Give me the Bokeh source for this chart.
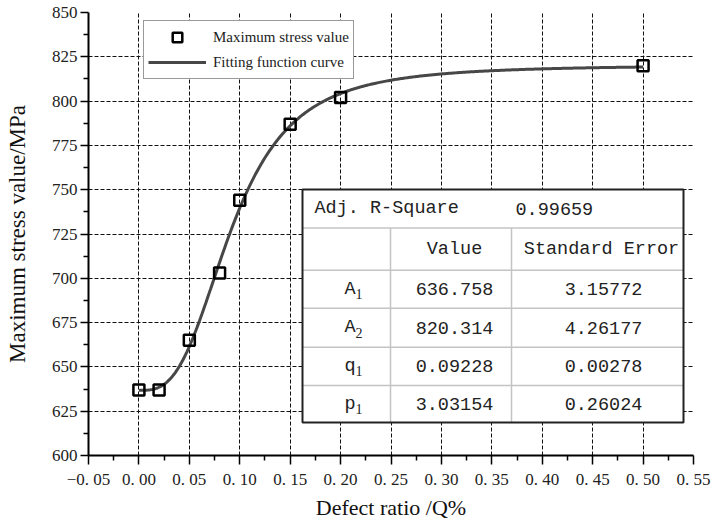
import numpy as np
from bokeh.plotting import figure
from bokeh.models import (Range1d, FixedTicker, Legend, LegendItem,
                          CustomJSTickFormatter)
from bokeh.core.properties import value
from bokeh.embed import file_html
from bokeh.resources import INLINE

# ---------------- data ----------------
defect_ratio = [0.00, 0.02, 0.05, 0.08, 0.10, 0.15, 0.20, 0.50]
max_stress = [637, 637, 665, 703, 744, 787, 802, 820]

x_ticks = [-0.05, 0.00, 0.05, 0.10, 0.15, 0.20, 0.25, 0.30, 0.35, 0.40, 0.45, 0.50, 0.55]
x_tick_labels = ["\u22120. 05", "0. 00", "0. 05", "0. 10", "0. 15", "0. 20", "0. 25",
                 "0. 30", "0. 35", "0. 40", "0. 45", "0. 50", "0. 55"]
y_ticks = [600, 625, 650, 675, 700, 725, 750, 775, 800, 825, 850]
y_tick_labels = ["600", "625", "650", "675", "700", "725", "750", "775", "800", "825", "850"]

# fit table (Logistic: y = A2 + (A1-A2)/(1+(x/q1)^p1))
fit_names = ["A", "A", "q", "p"]
fit_subs = ["1", "2", "1", "1"]
fit_values = [636.758, 820.314, 0.09228, 3.03154]
fit_value_labels = ["636.758", "820.314", "0.09228", "3.03154"]
fit_error_labels = ["3.15772", "4.26177", "0.00278", "0.26024"]
adj_r_square = "0.99659"
fit_x_start, fit_x_end = 0.0, 0.5

# fitted curve from the table's parameters
A1, A2, q1, p1 = fit_values
curve_x = np.linspace(fit_x_start, fit_x_end, 401)
curve_y = A2 + (A1 - A2) / (1.0 + (curve_x / q1) ** p1)

# ---------------- figure ----------------
X0, X1, Y0, Y1 = -0.05, 0.55, 600, 850
p = figure(width=717, height=526, x_range=Range1d(X0, X1), y_range=Range1d(Y0, Y1),
           output_backend="svg", toolbar_location=None,
           min_border_left=88, min_border_right=24, min_border_top=12, min_border_bottom=71)
p.outline_line_color = None
p.background_fill_color = "white"
p.border_fill_color = "white"

# helpers: reference-image pixel -> data coords (for annotation placement only)
def rx(px):
    return X0 + (px - 88) * (X1 - X0) / 605.0

def ry(py):
    return Y1 - (py - 12) * (Y1 - Y0) / 443.0

def mid(a):
    return [(a[i] + a[i + 1]) / 2 for i in range(len(a) - 1)]

def fmt(tvals, tlabels):
    return CustomJSTickFormatter(args=dict(tv=tvals, tl=tlabels), code="""
        for (let i = 0; i < tv.length; i++) {
            if (Math.abs(tv[i] - tick) < 1e-9) { return tl[i]; }
        }
        return "";
    """)

xt = FixedTicker(ticks=x_ticks, minor_ticks=mid(x_ticks))
yt = FixedTicker(ticks=y_ticks, minor_ticks=mid(y_ticks))
p.xaxis.ticker = xt
p.yaxis.ticker = yt
p.xaxis.formatter = fmt(x_ticks, x_tick_labels)
p.yaxis.formatter = fmt(y_ticks, y_tick_labels)

p.xgrid.ticker = FixedTicker(ticks=x_ticks[:-1])
p.ygrid.ticker = FixedTicker(ticks=y_ticks[:-1])
for g in (p.xgrid, p.ygrid):
    g.grid_line_color = "#111111"
    g.grid_line_dash = "4 2"
    g.grid_line_width = 1

for ax in (p.xaxis, p.yaxis):
    ax.axis_line_color = "black"
    ax.axis_line_width = 2
    ax.major_tick_line_color = "black"
    ax.major_tick_line_width = 1.5
    ax.minor_tick_line_color = "black"
    ax.minor_tick_line_width = 1.5
    ax.major_tick_in = 0
    ax.minor_tick_in = 0
    ax.major_label_text_font = "Liberation Serif"
    ax.major_label_text_font_size = "17px"
    ax.major_label_text_color = "#222222"
    ax.axis_label_text_font = "Liberation Serif"
    ax.axis_label_text_font_style = "normal"
    ax.axis_label_text_color = "#111111"

p.xaxis.major_tick_out = 9
p.xaxis.minor_tick_out = 5
p.xaxis.major_label_standoff = 5
p.xaxis.axis_label = "Defect ratio /Q%"
p.xaxis.axis_label_text_font_size = "22px"
p.xaxis.axis_label_standoff = 3

p.yaxis.major_tick_out = 8
p.yaxis.minor_tick_out = 5
p.yaxis.major_label_standoff = 3
p.yaxis.axis_label = "Maximum stress value/MPa"
p.yaxis.axis_label_text_font_size = "23px"
p.yaxis.axis_label_standoff = 19

# ---------------- data marks ----------------
curve = p.line(curve_x, curve_y, line_color="#474747", line_width=3)
pts = p.scatter(defect_ratio, max_stress, marker="square", size=11,
                fill_color=None, line_color="black", line_width=2.5)

# ---------------- legend ----------------
legend = Legend(items=[LegendItem(label="Maximum stress value", renderers=[pts]),
                       LegendItem(label="Fitting function curve", renderers=[curve])],
                location=(55, 376), orientation="vertical",
                glyph_width=58, glyph_height=24, label_height=24, label_width=20,
                spacing=1, padding=4, margin=0, label_standoff=7,
                label_text_font="Liberation Serif", label_text_font_size="15px",
                label_text_color="#222222",
                border_line_color="#333333", border_line_width=1.5,
                background_fill_color="white", background_fill_alpha=1.0)
p.add_layout(legend)

# ---------------- fit table ----------------
TL, TR, TT, TB = rx(302), rx(683), ry(189), ry(422)
row_lines = [227.4, 269.7, 307.7, 346.7, 385.0]
col_lines = [390.0, 511.0]
p.quad(left=[TL], right=[TR], top=[TT], bottom=[TB], fill_color="white", line_color=None)
p.segment(x0=[TL] * len(row_lines), x1=[TR] * len(row_lines),
          y0=[ry(v) for v in row_lines], y1=[ry(v) for v in row_lines],
          line_color="#c4c4c4", line_width=1.5)
p.segment(x0=[rx(v) for v in col_lines], x1=[rx(v) for v in col_lines],
          y0=[ry(row_lines[0])] * len(col_lines), y1=[TB] * len(col_lines),
          line_color="#c4c4c4", line_width=1.5)
p.quad(left=[TL], right=[TR], top=[TT], bottom=[TB], fill_color=None,
       line_color="#222222", line_width=2)

tfont = value("Liberation Mono")
tsize = "18.5px"
tcol = "#222222"
hdr_y = ry((189 + 227.4) / 2)
p.text(x=[rx(314)], y=[hdr_y], text=["Adj. R-Square"], text_align="left",
       text_baseline="middle", text_font=tfont, text_font_size=tsize, text_color=tcol)
p.text(x=[rx(515)], y=[hdr_y], text=[adj_r_square], text_align="left",
       text_baseline="middle", text_font=tfont, text_font_size=tsize, text_color=tcol)
sub_y = ry((227.4 + 269.7) / 2)
p.text(x=[rx(454), rx(601)], y=[sub_y, sub_y], text=["Value", "Standard Error"],
       text_align="center", text_baseline="middle", text_font=tfont,
       text_font_size=tsize, text_color=tcol)

edges = row_lines[1:] + [422.0]
row_centers = [(edges[i] + edges[i + 1]) / 2 for i in range(len(edges) - 1)]
rows_y = [ry(v) for v in row_centers]
subs_y = [ry(v + 5) for v in row_centers]
n = len(fit_names)
p.text(x=[rx(355)] * n, y=rows_y, text=fit_names, text_align="right",
       text_baseline="middle", text_font=tfont, text_font_size=tsize, text_color=tcol)
p.text(x=[rx(355)] * n, y=subs_y, text=fit_subs, text_align="left",
       text_baseline="middle", text_font=value("Liberation Serif"),
       text_font_size="14px", text_color=tcol)
p.text(x=[rx(454)] * n, y=rows_y, text=fit_value_labels, text_align="center",
       text_baseline="middle", text_font=tfont, text_font_size=tsize, text_color=tcol)
p.text(x=[rx(603)] * n, y=rows_y, text=fit_error_labels, text_align="center",
       text_baseline="middle", text_font=tfont, text_font_size=tsize, text_color=tcol)

open("out.html", "w").write(file_html(p, INLINE))
